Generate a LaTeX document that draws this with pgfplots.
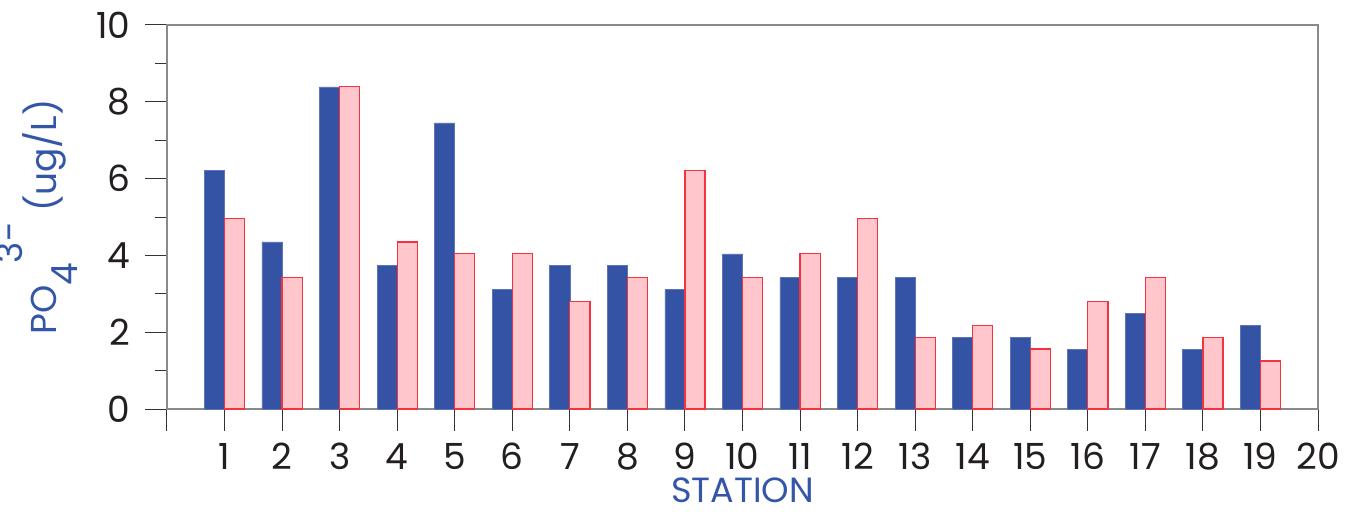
\documentclass[border=0pt]{standalone}
\usepackage{pgfplots}
\pgfplotsset{compat=1.18}
\usepackage{pgfplotstable}
\usepackage{fontspec}
\setmainfont{Poppins}
\definecolor{barblue}{HTML}{3453A5}
\definecolor{barpink}{HTML}{FFC6CB}
\definecolor{edgered}{HTML}{F5333F}
\definecolor{axgray}{HTML}{8A8A8A}
\definecolor{labblue}{HTML}{3456A8}
\definecolor{ticktext}{HTML}{231F20}
\pgfplotstableread{
x y
1 6.22
2 4.35
3 8.39
4 3.73
5 7.45
6 3.11
7 3.73
8 3.73
9 3.11
10 4.04
11 3.42
12 3.42
13 3.42
14 1.87
15 1.87
16 1.56
17 2.48
18 1.56
19 2.18
}\blueT
\pgfplotstableread{
x y
1 4.97
2 3.42
3 8.39
4 4.35
5 4.04
6 4.04
7 2.79
8 3.42
9 6.22
10 3.42
11 4.04
12 4.97
13 1.87
14 2.18
15 1.56
16 2.79
17 3.42
18 1.87
19 1.25
}\pinkT
\begin{document}
\begin{tikzpicture}
\begin{axis}[
  at={(0,0)}, anchor=south west,
  scale only axis, width=575.5pt, height=192pt,
  xmin=0, xmax=20, ymin=0, ymax=10,
  axis line style={axgray, line width=1pt},
  xtick={0,...,20},
  xticklabels={,1,2,3,4,5,6,7,8,9,10,11,12,13,14,15,16,17,18,19,20},
  ytick={0,2,...,10},
  minor ytick={1,3,5,7,9},
  tick align=outside,
  xtick pos=bottom, ytick pos=left,
  major tick length=11pt, minor tick length=6pt,
  major tick style={black!80, line width=0.5pt},
  minor tick style={black!80, line width=0.5pt},
  ybar, bar width=0.35,
  ticklabel style={font=\fontsize{18}{20}\selectfont, text=ticktext},
  /pgf/number format/assume math mode=true,
  xticklabel style={inner sep=0pt, yshift=-6pt},
  yticklabel style={inner sep=0pt, xshift=-7pt},
  xlabel={STATION},
  xlabel style={font=\fontsize{17.5}{20}\selectfont, text=labblue, at={(axis description cs:0.5,-0.177)}, anchor=north, inner sep=0pt},
  ylabel={PO\raisebox{-10.5pt}{4}\raisebox{17pt}{3-}\hspace{5pt}(ug/L)},
  ylabel style={font=\fontsize{18}{20}\selectfont, text=labblue, at={(axis description cs:-0.0773,0.5)}, anchor=south, inner sep=0pt},
  clip=false,
]
\addplot[ybar, bar shift=-0.175, fill=barblue, draw=barblue!80!white, line width=0.3pt] table[x=x,y=y] {\blueT};
\addplot[ybar, bar shift=0.175, fill=barpink, draw=edgered, line width=0.6pt] table[x=x,y=y] {\pinkT};
\end{axis}
\pgfresetboundingbox
\useasboundingbox (-83.5pt,-52.5pt) rectangle (593pt,204.5pt);
\end{tikzpicture}
\end{document}
